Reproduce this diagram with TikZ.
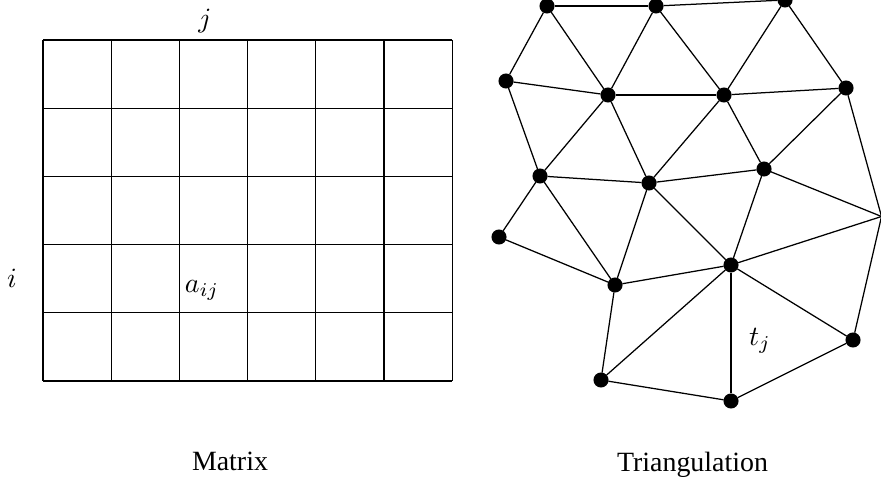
\documentclass[tikz,border=0pt]{standalone}
\usepackage{fontspec}
\setmainfont{Liberation Serif}
\usepackage{amsmath}
\usepackage{tikz}
\usetikzlibrary{positioning, calc}

\begin{document}
\begin{tikzpicture}[
        x=0.0126cm, y=-0.0126cm,
        cell/.style={line width=0.45pt},
        vertex/.style={draw, circle, fill=black, inner sep=0pt, minimum size=5pt},
        edge/.style={line width=0.45pt},
        caption/.style={anchor=base, font=\normalsize}
    ]
        \useasboundingbox (0,0) rectangle (881,484);

        % Matrix
        \foreach \c in {0,...,6}
            \draw[cell] (43+\c*68.2, 40) -- (43+\c*68.2, 381);
        \foreach \r in {0,...,5}
            \draw[cell] (43, 40+\r*68.2) -- (452.2, 40+\r*68.2);

        \node (colj) at (205, 21) {$j$};
        \node (rowi) at (12, 278) {$i$};
        \node (aij) at (202, 290) {$a_{ij}$};
        \node[caption] (matrix) at (230, 470) {Matrix};

        % Triangulation
        \node[vertex] (v1) at (547, 6) {};
        \node[vertex] (v2) at (656, 6) {};
        \node[vertex] (v3) at (785, 0) {};
        \node[vertex] (v4) at (506, 81) {};
        \node[vertex] (v5) at (608, 95) {};
        \node[vertex] (v6) at (724, 95) {};
        \node[vertex] (v7) at (846, 88) {};
        \node[vertex] (v8) at (540, 176) {};
        \node[vertex] (v9) at (649, 183) {};
        \node[vertex] (v10) at (764, 169) {};
        \node[vertex] (v11) at (499, 237) {};
        \node[vertex] (v12) at (615, 285) {};
        \node[vertex] (v13) at (731, 265) {};
        \coordinate (v14) at (881.5, 216.5);
        \node[vertex] (v15) at (853, 340) {};
        \node[vertex] (v16) at (601, 380) {};
        \node[vertex] (v17) at (731, 401) {};

        \foreach \a/\b in {v1/v2, v2/v3, v1/v4, v1/v5, v2/v5, v2/v6, v3/v6, v3/v7,
                v4/v5, v5/v6, v6/v7, v4/v8, v5/v8, v5/v9, v6/v9, v6/v10, v7/v10, v7/v14,
                v8/v9, v9/v10, v8/v11, v8/v12, v11/v12, v9/v12, v9/v13, v10/v13, v10/v14,
                v12/v13, v13/v14, v12/v16, v13/v16, v13/v17, v13/v15, v14/v15,
                v16/v17, v17/v15}
            \draw[edge] (\a) -- (\b);

        \node (tj) at (760, 341) {$t_j$};
        \node[caption] (triang) at (692.5, 471) {Triangulation};
    \end{tikzpicture}
\end{document}
